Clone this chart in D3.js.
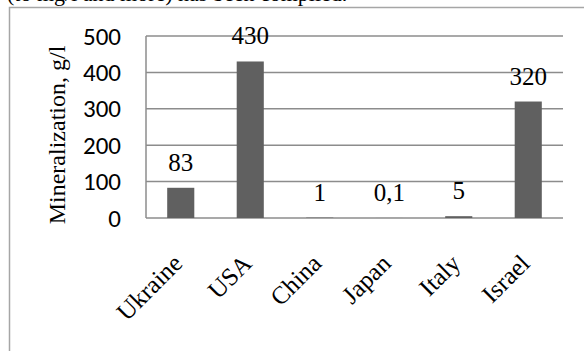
<!DOCTYPE html>
<html>
<head>
<meta charset="utf-8">
<script src="https://cdn.jsdelivr.net/npm/d3@7/dist/d3.min.js"></script>
<style>
  html, body { margin: 0; padding: 0; background: #fff; overflow: hidden; }
  svg { display: block; }
</style>
</head>
<body>
<svg id="chart" width="584" height="351"></svg>
<script>
// Mineralization of water sources by country
const countries = ["Ukraine", "USA", "China", "Japan", "Italy", "Israel"];
const mineralization = [83, 430, 1, 0.1, 5, 320];
const valueLabels = ["83", "430", "1", "0,1", "5", "320"];
const yTicks = [0, 100, 200, 300, 400, 500];

const svg = d3.select("#chart");
const W = 584, H = 351;
const plot = { left: 146, right: 563, top: 36, bottom: 218 };
const serif = "'Liberation Serif', 'Times New Roman', serif";
const sans = "Carlito, 'Liberation Sans', Arial, sans-serif";

// Trailing line of the preceding paragraph, cut off by the top edge
svg.append("text")
  .attr("x", 7).attr("y", 1)
  .attr("font-family", serif)
  .attr("font-size", 22)
  .attr("fill", "#000")
  .text("(to mg/l and more) has been compiled.");

// Chart frame
svg.append("rect")
  .attr("x", 9.5).attr("y", 7.5)
  .attr("width", W + 20).attr("height", H + 20)
  .attr("fill", "#fff")
  .attr("stroke", "#a6a6a6").attr("stroke-width", 1.5);

const x = d3.scaleBand()
  .domain(countries)
  .range([plot.left, plot.right])
  .paddingInner(0.61)
  .paddingOuter(0.305);

const y = d3.scaleLinear()
  .domain([0, 500])
  .range([plot.bottom, plot.top]);

// Horizontal gridlines
svg.append("g")
  .selectAll("line")
  .data(yTicks)
  .join("line")
  .attr("x1", plot.left).attr("x2", plot.right)
  .attr("y1", d => y(d)).attr("y2", d => y(d))
  .attr("stroke", "#8c8c8c").attr("stroke-width", 1.5);

// Left axis line
svg.append("line")
  .attr("x1", plot.left).attr("x2", plot.left)
  .attr("y1", plot.top).attr("y2", plot.bottom)
  .attr("stroke", "#8c8c8c").attr("stroke-width", 1.5);

// Y tick labels
const yAxis = d3.axisLeft(y).tickValues(yTicks).tickSize(0).tickPadding(0);
const gy = svg.append("g")
  .attr("transform", `translate(${plot.left - 25},0)`)
  .call(yAxis);
gy.select(".domain").remove();
gy.selectAll("text")
  .attr("font-family", sans)
  .attr("font-size", 25)
  .attr("fill", "#000");

// Bars
svg.append("g")
  .selectAll("rect")
  .data(countries)
  .join("rect")
  .attr("x", d => x(d))
  .attr("y", (d, i) => y(mineralization[i]))
  .attr("width", x.bandwidth())
  .attr("height", (d, i) => y(0) - y(mineralization[i]))
  .attr("fill", "#606060");

// Value labels above bars
svg.append("g")
  .selectAll("text")
  .data(countries)
  .join("text")
  .attr("x", d => x(d) + x.bandwidth() / 2)
  .attr("y", (d, i) => y(mineralization[i]) - 17)
  .attr("text-anchor", "middle")
  .attr("font-family", serif)
  .attr("font-size", 25)
  .attr("fill", "#000")
  .text((d, i) => valueLabels[i]);

// Rotated category labels
const xAxis = d3.axisBottom(x).tickSize(0).tickPadding(0);
const gx = svg.append("g")
  .attr("transform", `translate(0,${plot.bottom})`)
  .call(xAxis);
gx.select(".domain").remove();
gx.selectAll("text")
  .attr("font-family", serif)
  .attr("font-size", 25)
  .attr("fill", "#000")
  .attr("text-anchor", "end")
  .attr("dy", 0)
  .attr("y", 0)
  .attr("transform", "translate(3,47) rotate(-45)");

// Y axis title
svg.append("text")
  .attr("transform", `translate(65,135) rotate(-90)`)
  .attr("text-anchor", "middle")
  .attr("font-family", serif)
  .attr("font-size", 24)
  .attr("fill", "#000")
  .text("Mineralization, g/l");
</script>
</body>
</html>
